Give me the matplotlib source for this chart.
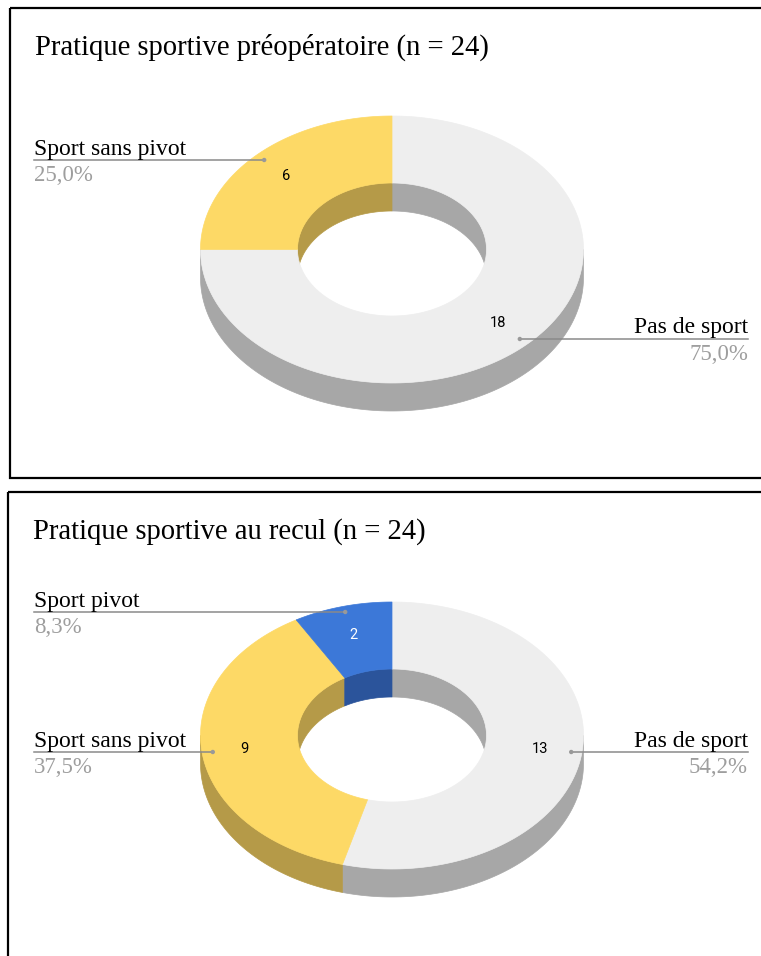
import numpy as np
import matplotlib
matplotlib.use("Agg")
import matplotlib.pyplot as plt
from matplotlib.patches import Polygon, Rectangle, Circle

# ---------------- data ----------------
titles = ["Pratique sportive préopératoire (n = 24)",
          "Pratique sportive au recul (n = 24)"]
labels_pre = ["Pas de sport", "Sport sans pivot"]
values_pre = [18, 6]
pct_pre = ["75,0%", "25,0%"]
labels_post = ["Pas de sport", "Sport sans pivot", "Sport pivot"]
values_post = [13, 9, 2]
pct_post = ["54,2%", "37,5%", "8,3%"]

# ---------------- style ----------------
TOP = {"Pas de sport": "#eeeeee", "Sport sans pivot": "#fdd966", "Sport pivot": "#3c78d8"}
SIDE = {"Pas de sport": "#a7a7a7", "Sport sans pivot": "#b59a48", "Sport pivot": "#2b549b"}
NUMCOL = {"Pas de sport": "black", "Sport sans pivot": "black", "Sport pivot": "white"}
SERIF = ["Liberation Serif", "DejaVu Serif"]

W, H = 761, 956
fig = plt.figure(figsize=(W / 100, H / 100), dpi=100)
ax = fig.add_axes([0, 0, 1, 1])
ax.set_xlim(0, W)
ax.set_ylim(H, 0)
ax.axis("off")
renderer = fig.canvas.get_renderer()


def fit_size(text, width, family=SERIF):
    t = ax.text(0, 0, text, fontsize=20, family=family)
    w = t.get_window_extent(renderer).width
    t.remove()
    return 20 * width / w


TITLE_FS = fit_size(titles[0], 455)
LABEL_FS = fit_size("Sport sans pivot", 152)
PCT_FS = fit_size("75,0%", 59)

# panel frames
ax.add_patch(Rectangle((10, 8), 770, 470, fill=False, ec="black", lw=1.6))
ax.add_patch(Rectangle((8, 492), 770, 500, fill=False, ec="black", lw=1.6))

RX, RY = 191.5, 133.5
RXI, RYI = 94.5, 66.5
DEPTH = 28


def pt(cx, cy, rx, ry, th):
    th = np.radians(th)
    return cx + rx * np.sin(th), cy - ry * np.cos(th)


def arc(cx, cy, rx, ry, a, b, n=200):
    t = np.linspace(a, b, n)
    x, y = pt(cx, cy, rx, ry, t)
    return np.column_stack([x, y])


def donut(cx, cy, labels, values, pcts, label_pos):
    total = float(sum(values))
    angs = np.concatenate([[0], np.cumsum(values) / total * 360.0])
    # inner walls (far half, visible through the hole)
    for i, lab in enumerate(labels):
        a, b = angs[i], angs[i + 1]
        for lo, hi in [(-90, 90), (270, 450)]:
            s, e = max(a, lo), min(b, hi)
            if e > s:
                top = arc(cx, cy, RXI, RYI, s, e)
                bot = top[::-1] + [0, DEPTH]
                ax.add_patch(Polygon(np.vstack([top, bot]), closed=True,
                                     fc=SIDE[lab], ec=SIDE[lab], lw=0.5))
    # outer walls (near half)
    for i, lab in enumerate(labels):
        a, b = angs[i], angs[i + 1]
        s, e = max(a, 90), min(b, 270)
        if e > s:
            top = arc(cx, cy, RX, RY, s, e)
            bot = top[::-1] + [0, DEPTH]
            ax.add_patch(Polygon(np.vstack([top, bot]), closed=True,
                                 fc=SIDE[lab], ec=SIDE[lab], lw=0.5))
    # top faces
    for i, lab in enumerate(labels):
        a, b = angs[i], angs[i + 1]
        outer = arc(cx, cy, RX, RY, a, b)
        inner = arc(cx, cy, RXI, RYI, b, a)
        ax.add_patch(Polygon(np.vstack([outer, inner]), closed=True,
                             fc=TOP[lab], ec=TOP[lab], lw=0.5))
    # value numbers and leader labels
    for i, lab in enumerate(labels):
        mid = (angs[i] + angs[i + 1]) / 2
        nx, ny = pt(cx, cy, RX * 0.78, RY * 0.78, mid)
        ax.text(nx, ny, str(values[i]), ha="center", va="center",
                fontsize=10.5, family="Roboto", color=NUMCOL[lab])
        dx, _ = pt(cx, cy, RX * 0.944, RY * 0.944, mid)
        side, dy = label_pos[i]
        if side == "left":
            x0, x1, xt, ha = 34, dx, 34, "left"
        else:
            x0, x1, xt, ha = dx, 748, 748, "right"
        ax.plot([x0, x1], [dy, dy], color="#8a8a8a", lw=1.1)
        ax.text(xt, dy - 5.5, lab, ha=ha, va="baseline", fontsize=LABEL_FS,
                family=SERIF, color="black")
        ax.text(xt, dy + 5, pcts[i], ha=ha, va="top", fontsize=PCT_FS,
                family=SERIF, color="#9e9e9e")
        ax.add_patch(Circle((dx, dy), 2.2, fc="#999999", ec="none", zorder=5))


ax.text(35, 55, titles[0], ha="left", va="baseline", fontsize=TITLE_FS, family=SERIF)
ax.text(33, 539, titles[1], ha="left", va="baseline", fontsize=TITLE_FS, family=SERIF)

donut(392, 249.5, labels_pre, values_pre, pct_pre,
      [("right", 339), ("left", 160)])
donut(392, 735.5, labels_post, values_post, pct_post,
      [("right", 752), ("left", 752), ("left", 612)])

fig.savefig("out.png", dpi=100, facecolor="white")
